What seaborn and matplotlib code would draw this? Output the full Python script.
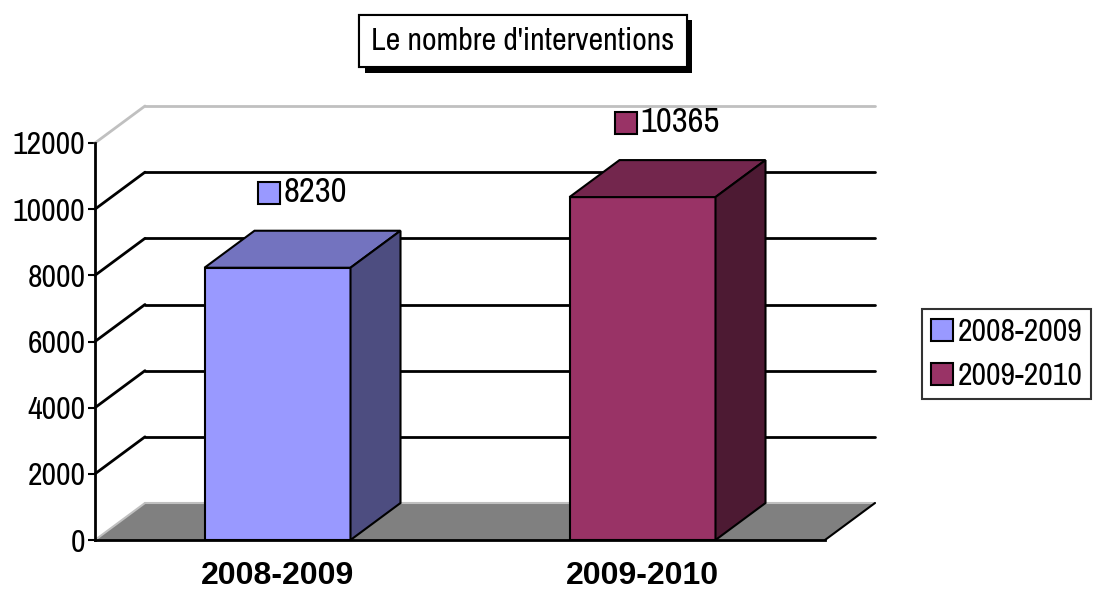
import matplotlib
matplotlib.use("Agg")
import matplotlib.pyplot as plt
import seaborn as sns
import numpy as np
from matplotlib.patches import Polygon, Rectangle, Patch
from matplotlib.lines import Line2D
from matplotlib.transforms import IdentityTransform
from matplotlib.font_manager import fontManager, FontProperties
from matplotlib import patheffects

# data
periods = ["2008-2009", "2009-2010"]
counts = [8230, 10365]
y_ticks = [0, 2000, 4000, 6000, 8000, 10000, 12000]
title = "Le nombre d'interventions"

front_colors = ["#9999FF", "#993366"]
top_colors = ["#7373BF", "#73264D"]
side_colors = ["#4D4D80", "#4D1A33"]

# 3D depth offset in pixels (right, up)
DX, DY = 50, 37

sns.set_style("white")
plt.rcParams["font.family"] = ["Liberation Sans", "DejaVu Sans"]
plt.rcParams["text.color"] = "black"
plt.rcParams["xtick.color"] = "black"
plt.rcParams["ytick.color"] = "black"


# look for a narrow / condensed regular face (Arial Narrow look-alike)
def find_narrow():
    cands = []
    for f in fontManager.ttflist:
        st = str(f.stretch)
        if ("Narrow" in f.name or "Condensed" in f.name or st in ("condensed", "semi-condensed")) \
                and f.style == "normal" and f.weight in (400, "normal", "regular"):
            cands.append(f)
    cands.sort(key=lambda f: (0 if "Liberation" in f.name else 1, f.name))
    return cands[0].fname if cands else None


narrow_path = find_narrow()
if narrow_path:
    body = FontProperties(fname=narrow_path, size=23)
    value_font = FontProperties(fname=narrow_path, size=25)
else:
    body = FontProperties(family=["Liberation Sans", "DejaVu Sans"], size=19)
    value_font = FontProperties(family=["Liberation Sans", "DejaVu Sans"], size=20)
bold = FontProperties(family=["Liberation Sans", "DejaVu Sans"], weight="bold", size=23)

fig = plt.figure(figsize=(10.94, 5.93), dpi=100)
ax = fig.add_axes([95 / 1094, 53 / 593, 730 / 1094, 397 / 593])
ax.patch.set_visible(False)

sns.barplot(x=periods, y=counts, hue=periods, palette=front_colors, saturation=1,
            width=0.4, edgecolor="black", linewidth=1.5, legend=False, ax=ax, zorder=3)

ax.set_xlim(-0.5, 1.5)
ax.set_ylim(y_ticks[0], y_ticks[-1])
ax.set_yticks(y_ticks)
ax.set_xticks([0, 1], periods)
ax.set_xticks([-0.5, 0.5, 1.5], minor=True)
for lbl in ax.get_xticklabels():
    lbl.set_fontproperties(bold)
for lbl in ax.get_yticklabels():
    lbl.set_fontproperties(body)
ax.tick_params(axis="x", which="major", length=0, pad=15)
ax.tick_params(axis="x", which="minor", direction="out", length=6, width=1.5, color="black")
ax.tick_params(axis="y", direction="out", length=5, width=1.5, color="black", pad=2, left=True)
ax.set_xlabel("")
ax.set_ylabel("")
for s in ["top", "right"]:
    ax.spines[s].set_visible(False)
for s in ["left", "bottom"]:
    ax.spines[s].set_color("black")
    ax.spines[s].set_linewidth(2)

ident = IdentityTransform()
d = np.array([DX, DY])


def to_px(x, y):
    return ax.transData.transform((x, y))


def line(p, q, color, z=1, lw=2):
    ax.add_artist(Line2D([p[0], q[0]], [p[1], q[1]], color=color, lw=lw,
                         transform=ident, clip_on=False, zorder=z))


x0, x1 = ax.get_xlim()

# floor
fl, fr = to_px(x0, 0), to_px(x1, 0)
ax.add_artist(Polygon([fl, fr, fr + d, fl + d], closed=True, facecolor="#808080",
                      edgecolor="none", transform=ident, clip_on=False, zorder=0.5))
line(fl, fl + d, "#C0C0C0", lw=1.5)
line(fl + d, fr + d, "#C0C0C0", lw=1.5)
line(fr, fr + d, "black", lw=1.5)

# side + back wall gridlines
for v in y_ticks[1:]:
    c = "black" if v < y_ticks[-1] else "#C0C0C0"
    p, q = to_px(x0, v), to_px(x1, v)
    line(p, p + d, c)
    line(p + d, q + d, c)

# bar tops and sides
renderer = fig.canvas.get_renderer()
for i, bar in enumerate(ax.patches[:len(counts)]):
    bx, bw, bh = bar.get_x(), bar.get_width(), bar.get_height()
    tl, tr, br = to_px(bx, bh), to_px(bx + bw, bh), to_px(bx + bw, 0)
    ax.add_artist(Polygon([tl, tr, tr + d, tl + d], closed=True, facecolor=top_colors[i],
                          edgecolor="black", lw=1.5, transform=ident, clip_on=False, zorder=3))
    ax.add_artist(Polygon([br, tr, tr + d, br + d], closed=True, facecolor=side_colors[i],
                          edgecolor="black", lw=1.5, transform=ident, clip_on=False, zorder=3))

    # value label with legend key
    anchor = to_px(bx + bw / 2, bh) + d / 2 + np.array([0, 57])
    t = ax.text(anchor[0] + 13, anchor[1], f"{counts[i]}", ha="center", va="center",
                fontproperties=value_font, transform=ident, clip_on=False, zorder=5)
    ext = t.get_window_extent(renderer)
    sq = 22
    ax.add_artist(Rectangle((ext.x0 - 4 - sq, anchor[1] - sq / 2 - 1), sq, sq,
                            facecolor=front_colors[i], edgecolor="black", lw=1.5,
                            transform=ident, clip_on=False, zorder=5))

# title in a shadowed box
tt = fig.text(523 / 1094, 1 - 41 / 593, title, ha="center", va="center", fontproperties=body,
              bbox=dict(boxstyle="square,pad=0.38", facecolor="white", edgecolor="black", lw=1.5))
tt.get_bbox_patch().set_path_effects([
    patheffects.withSimplePatchShadow(offset=(4, -4), shadow_rgbFace="black", alpha=1.0),
    patheffects.Normal(),
])

# legend
handles = [Patch(facecolor=c, edgecolor="black", lw=1.5, label=p)
           for p, c in zip(periods, front_colors)]
leg = fig.legend(handles=handles, loc="center left", bbox_to_anchor=(922 / 1094, 1 - 354 / 593),
                 frameon=True, fancybox=False, edgecolor="black", prop=body,
                 handlelength=0.68, handleheight=0.68, handletextpad=0.15,
                 labelspacing=0.5, borderpad=0.28, borderaxespad=0)
leg.get_frame().set_linewidth(1.5)

fig.savefig("out.png", dpi=100)
